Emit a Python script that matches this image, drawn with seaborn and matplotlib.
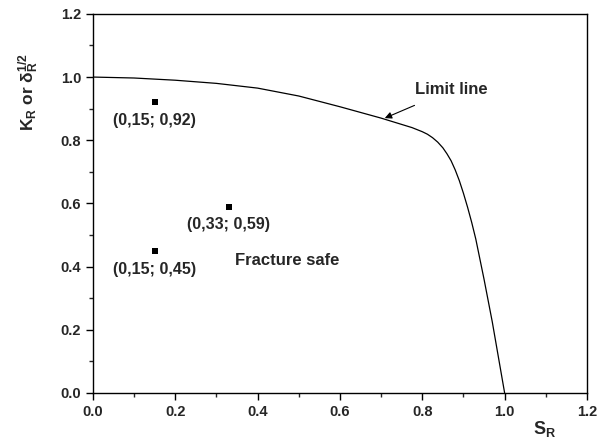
import matplotlib
matplotlib.use("Agg")
import matplotlib.pyplot as plt
from matplotlib.ticker import MultipleLocator
import pandas as pd
import seaborn as sns

# limit line
sr_line = [0.0, 0.1, 0.2, 0.3, 0.4, 0.5, 0.6, 0.7, 0.75, 0.775, 0.8, 0.8125,
           0.825, 0.8375, 0.85, 0.86, 0.87, 0.88, 0.89, 0.9, 0.91, 0.92, 0.93,
           0.95, 0.97, 1.0]
kr_line = [1.0, 0.997, 0.99, 0.98, 0.965, 0.94, 0.906, 0.87, 0.85, 0.84,
           0.827, 0.819, 0.808, 0.794, 0.776, 0.757, 0.735, 0.706, 0.672,
           0.632, 0.588, 0.54, 0.487, 0.36, 0.225, 0.0]

# assessed points
pt_sr = [0.15, 0.33, 0.15]
pt_kr = [0.92, 0.59, 0.45]
pt_labels = ["(0,15; 0,92)", "(0,33; 0,59)", "(0,15; 0,45)"]

df_line = pd.DataFrame({"sr": sr_line, "kr": kr_line})
df_pts = pd.DataFrame({"sr": pt_sr, "kr": pt_kr})

sns.set_theme(style="ticks")
plt.rcParams["font.family"] = ["Liberation Sans", "DejaVu Sans"]
plt.rcParams["font.weight"] = "bold"
plt.rcParams["mathtext.fontset"] = "custom"
plt.rcParams["mathtext.rm"] = "Liberation Sans:bold"
plt.rcParams["mathtext.it"] = "Liberation Sans:bold"
plt.rcParams["mathtext.bf"] = "Liberation Sans:bold"

fig = plt.figure(figsize=(6.07, 4.48), dpi=100)
ax = fig.add_axes([0.153, 0.123, 0.814, 0.846])

sns.lineplot(data=df_line, x="sr", y="kr", ax=ax, color="black", lw=0.9,
             sort=False, legend=False)
sns.scatterplot(data=df_pts, x="sr", y="kr", ax=ax, color="black", marker="s",
                s=22, linewidth=0, legend=False)

for x, y, lab in zip(pt_sr, pt_kr, pt_labels):
    ax.text(x, y - 0.058, lab, ha="center", va="center", fontsize=11.5,
            fontweight="bold")

ax.text(0.345, 0.42, "Fracture safe", ha="left", va="center", fontsize=12,
        fontweight="bold")
ax.annotate("Limit line", xy=(0.709, 0.870), xytext=(0.782, 0.96),
            ha="left", va="center", fontsize=12, fontweight="bold",
            arrowprops=dict(arrowstyle="-|>", color="black", lw=0.8,
                            mutation_scale=10, shrinkA=9, shrinkB=0))

ax.set_xlim(0, 1.2)
ax.set_ylim(0, 1.2)
ax.xaxis.set_major_locator(MultipleLocator(0.2))
ax.xaxis.set_minor_locator(MultipleLocator(0.1))
ax.yaxis.set_major_locator(MultipleLocator(0.2))
ax.yaxis.set_minor_locator(MultipleLocator(0.1))
ax.tick_params(which="major", direction="out", length=5, width=1.0,
               labelsize=10.5, color="black", top=False, right=False)
ax.tick_params(which="minor", direction="out", length=3, width=1.0,
               top=False, right=False)
for lab in ax.get_xticklabels() + ax.get_yticklabels():
    lab.set_fontweight("bold")
for sp in ax.spines.values():
    sp.set_visible(True)
    sp.set_linewidth(1.0)
    sp.set_color("black")

ax.set_xlabel(r"$\mathbf{S_R}$", fontsize=13)
ax.xaxis.set_label_coords(0.915, -0.07)
ax.set_ylabel(r"$\mathbf{K_R}$ or $\mathbf{\delta_R^{1/2}}$", fontsize=12.5,
              fontweight="bold")
ax.yaxis.set_label_coords(-0.105, 0.795)

fig.savefig("out.png", dpi=100)
